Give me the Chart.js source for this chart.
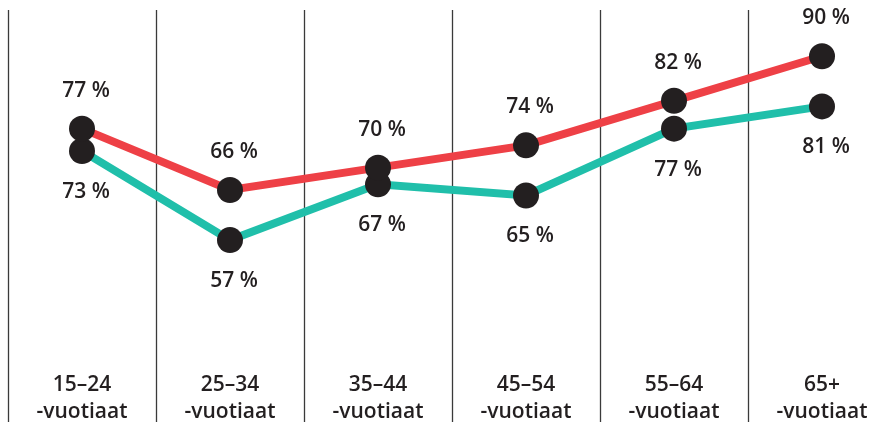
<!DOCTYPE html>
<html lang="fi">
<head>
    <meta charset="UTF-8">
    <title>Ikäryhmät</title>
    <script src="https://cdn.jsdelivr.net/npm/chart.js"></script>
    <style>
        html, body { margin: 0; padding: 0; background: #fff; }
        #wrap { width: 896px; height: 422px; }
    </style>
</head>
<body>
    <div id="wrap"><canvas id="age-chart"></canvas></div>
    <script>
        const ageGroups = [
            ['15–24', '-vuotiaat'],
            ['25–34', '-vuotiaat'],
            ['35–44', '-vuotiaat'],
            ['45–54', '-vuotiaat'],
            ['55–64', '-vuotiaat'],
            ['65+', '-vuotiaat']
        ];
        const redValues = [77, 66, 70, 74, 82, 90];
        const tealValues = [73, 57, 67, 65, 77, 81];

        const textColor = '#231f20';
        const labelFont = '600 21px "Open Sans"';

        // vertical separators between age groups
        const separators = {
            id: 'separators',
            beforeDatasetsDraw(chart) {
                const x = chart.scales.x;
                const ctx = chart.ctx;
                const step = x.getPixelForValue(1) - x.getPixelForValue(0);
                ctx.save();
                ctx.strokeStyle = '#3a3a3a';
                ctx.lineWidth = 1.3;
                for (let i = 0; i < ageGroups.length; i++) {
                    const px = Math.round(x.getPixelForValue(i) - step / 2) + 0.5;
                    ctx.beginPath();
                    ctx.moveTo(px, chart.chartArea.top);
                    ctx.lineTo(px, chart.height);
                    ctx.stroke();
                }
                ctx.restore();
            }
        };

        // percent labels: above for red, below for teal
        const valueLabels = {
            id: 'valueLabels',
            afterDatasetsDraw(chart) {
                const ctx = chart.ctx;
                ctx.save();
                ctx.font = labelFont;
                ctx.fillStyle = textColor;
                ctx.textAlign = 'center';
                ctx.textBaseline = 'middle';
                chart.data.datasets.forEach((ds, di) => {
                    const meta = chart.getDatasetMeta(di);
                    meta.data.forEach((pt, i) => {
                        const dy = di === 0 ? -38 : 41;
                        ctx.fillText(ds.data[i] + ' %', pt.x + 4, pt.y + dy);
                    });
                });
                ctx.restore();
            }
        };

        const ctx = document.getElementById('age-chart').getContext('2d');
        const ageChart = new Chart(ctx, {
            type: 'line',
            data: {
                labels: ageGroups,
                datasets: [{
                    data: redValues,
                    borderColor: '#ee4046',
                    borderWidth: 8,
                    pointRadius: 13,
                    pointHoverRadius: 13,
                    pointBackgroundColor: textColor,
                    pointBorderWidth: 0,
                    tension: 0
                }, {
                    data: tealValues,
                    borderColor: '#20bfaa',
                    borderWidth: 8,
                    pointRadius: 13,
                    pointHoverRadius: 13,
                    pointBackgroundColor: textColor,
                    pointBorderWidth: 0,
                    tension: 0
                }]
            },
            options: {
                responsive: true,
                maintainAspectRatio: false,
                animation: false,
                clip: false,
                layout: { autoPadding: false, padding: { top: 10, left: 8, right: 0, bottom: -12 } },
                plugins: {
                    legend: { display: false },
                    tooltip: { enabled: false }
                },
                scales: {
                    x: {
                        offset: true,
                        grid: { display: false },
                        border: { display: false },
                        ticks: {
                            color: textColor,
                            padding: 8,
                            maxRotation: 0,
                            font: { family: 'Open Sans', size: 21, weight: '600', lineHeight: 1.3 }
                        }
                    },
                    y: {
                        display: false,
                        min: 36.3,
                        max: 98.3
                    }
                }
            },
            plugins: [separators, valueLabels]
        });
    </script>
</body>
</html>
